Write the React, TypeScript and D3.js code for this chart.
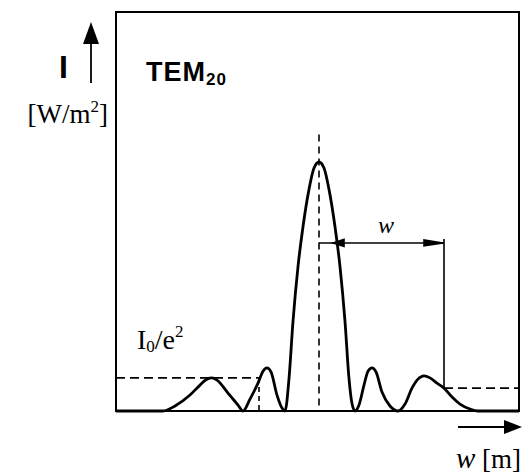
import { useEffect } from 'react'
import * as d3 from 'd3'

// beam profile: transverse position w (arbitrary units, 0 = beam axis) and relative intensity
const profileW = [
  -2.03, -1.69, -1.56, -1.44, -1.29, -1.19, -1.12, -1.07, -1.02, -0.91, -0.81, -0.76,
  -0.69, -0.61, -0.56, -0.52, -0.48, -0.42, -0.37, -0.34, -0.3, -0.26, -0.21, -0.16,
  -0.1, -0.05, 0, 0.05, 0.1, 0.16, 0.21, 0.26, 0.3, 0.33, 0.36, 0.4, 0.45, 0.49, 0.53,
  0.57, 0.63, 0.71, 0.79, 0.86, 0.93, 0.99, 1.05, 1.11, 1.18, 1.25, 1.33, 1.41, 1.51,
  1.59, 2.0,
]
const profileI = [
  0, 0, 0, 0.02, 0.064, 0.104, 0.128, 0.133, 0.124, 0.072, 0.024, 0,
  0.048, 0.112, 0.16, 0.173, 0.157, 0.064, 0.012, 0, 0.13, 0.36, 0.58, 0.74,
  0.89, 0.976, 1, 0.976, 0.89, 0.74, 0.58, 0.36, 0.13, 0.03, 0, 0.024, 0.104, 0.16, 0.173,
  0.157, 0.076, 0.02, 0, 0.028, 0.092, 0.128, 0.141, 0.133, 0.112, 0.092, 0.056, 0.028, 0.008,
  0, 0,
]

// I0/e^2 markers (left and right levels as drawn), widths and the w annotation
const levelLeft = 0.133
const levelLeftW = -0.6
const levelRight = 0.092
const radiusW = 1.25
const radiusI = 0.675
const radiusTipW = 0.14
const axisTopI = 1.11

const xDomain: [number, number] = [-2.03, 2.0]
const yDomain: [number, number] = [0, 1]

const W = 523
const H = 476
const frame = { left: 116, right: 519, top: 12, bottom: 411 }
const SERIF = '"Liberation Serif", "Times New Roman", serif'
const SANS = '"Liberation Sans", Arial, sans-serif'

export default function App() {
  useEffect(() => {
    document.body.style.margin = '0'
    document.body.style.background = '#fff'
  }, [])

  const x = d3.scaleLinear().domain(xDomain).range([frame.left, frame.right])
  const y = d3.scaleLinear().domain(yDomain).range([frame.bottom, 162])

  const pts = profileW.map((w, i) => [w, profileI[i]] as [number, number])
  const line = d3.line<[number, number]>()
    .x((d) => x(d[0]))
    .y((d) => y(d[1]))
    .curve(d3.curveMonotoneX)

  const ya = y(radiusI)
  const xr = x(radiusW)
  const xt = x(radiusTipW)

  return (
    <svg width={W} height={H} style={{ display: 'block', background: '#fff' }}>
      {/* frame */}
      <rect
        x={frame.left}
        y={frame.top}
        width={frame.right - frame.left}
        height={frame.bottom - frame.top}
        fill="none"
        stroke="#000"
        strokeWidth={2}
      />

      {/* dashed guides */}
      <g stroke="#000" strokeWidth={1.6} strokeDasharray="9 5" fill="none">
        <line x1={frame.left} x2={x(levelLeftW)} y1={y(levelLeft)} y2={y(levelLeft)} />
        <line x1={x(levelLeftW)} x2={x(levelLeftW)} y1={y(levelLeft)} y2={frame.bottom} strokeDasharray="5 4" />
        <line x1={xr} x2={frame.right} y1={y(levelRight)} y2={y(levelRight)} />
        <line x1={x(0)} x2={x(0)} y1={y(axisTopI)} y2={frame.bottom} strokeDasharray="7 5" />
      </g>

      {/* radius annotation */}
      <g stroke="#000" strokeWidth={1.6} fill="#000">
        <line x1={x(0)} x2={xr} y1={ya} y2={ya} />
        <line x1={xr} x2={xr} y1={ya - 4} y2={y(levelRight)} />
        <path d={`M${xt},${ya} L${xt + 11},${ya - 3.5} L${xt + 11},${ya + 3.5} Z`} />
        <path d={`M${xr - 1},${ya} L${xr - 20},${ya - 3} L${xr - 20},${ya + 3} Z`} />
      </g>
      <text x={386} y={233} fontFamily={SERIF} fontStyle="italic" fontSize={24} textAnchor="middle">w</text>

      {/* profile */}
      <path d={line(pts) ?? ''} fill="none" stroke="#000" strokeWidth={2.8} strokeLinejoin="round" />

      {/* y axis arrow and label */}
      <line x1={91} x2={91} y1={42} y2={83} stroke="#000" strokeWidth={1.8} />
      <path d="M91,22 L83,44 L99,44 Z" fill="#000" />
      <text x={63.5} y={78} fontFamily={SANS} fontWeight="bold" fontSize={32} textAnchor="middle">I</text>
      <text x={108} y={123} fontFamily={SERIF} fontSize={27} textAnchor="end">
        [W/m<tspan fontSize={17} dy={-11}>2</tspan><tspan dy={11}>]</tspan>
      </text>

      {/* x axis arrow and label */}
      <line x1={458} x2={508} y1={427} y2={427} stroke="#000" strokeWidth={1.8} />
      <path d="M522,427 L504,420 L504,434 Z" fill="#000" />
      <text x={521} y={468} fontFamily={SERIF} fontSize={27} textAnchor="end">
        <tspan fontStyle="italic" fontSize={29}>w</tspan> [m]
      </text>

      {/* mode label */}
      <text x={146} y={81} fontFamily={SANS} fontWeight="bold" fontSize={27} letterSpacing={1}>
        TEM<tspan fontSize={17} dy={4}>20</tspan>
      </text>

      {/* I0/e^2 label */}
      <text x={137} y={349} fontFamily={SERIF} fontSize={28}>
        I<tspan fontSize={17} dy={3}>0</tspan><tspan dy={-3}>/e</tspan><tspan fontSize={17} dy={-12}>2</tspan>
      </text>
    </svg>
  )
}
